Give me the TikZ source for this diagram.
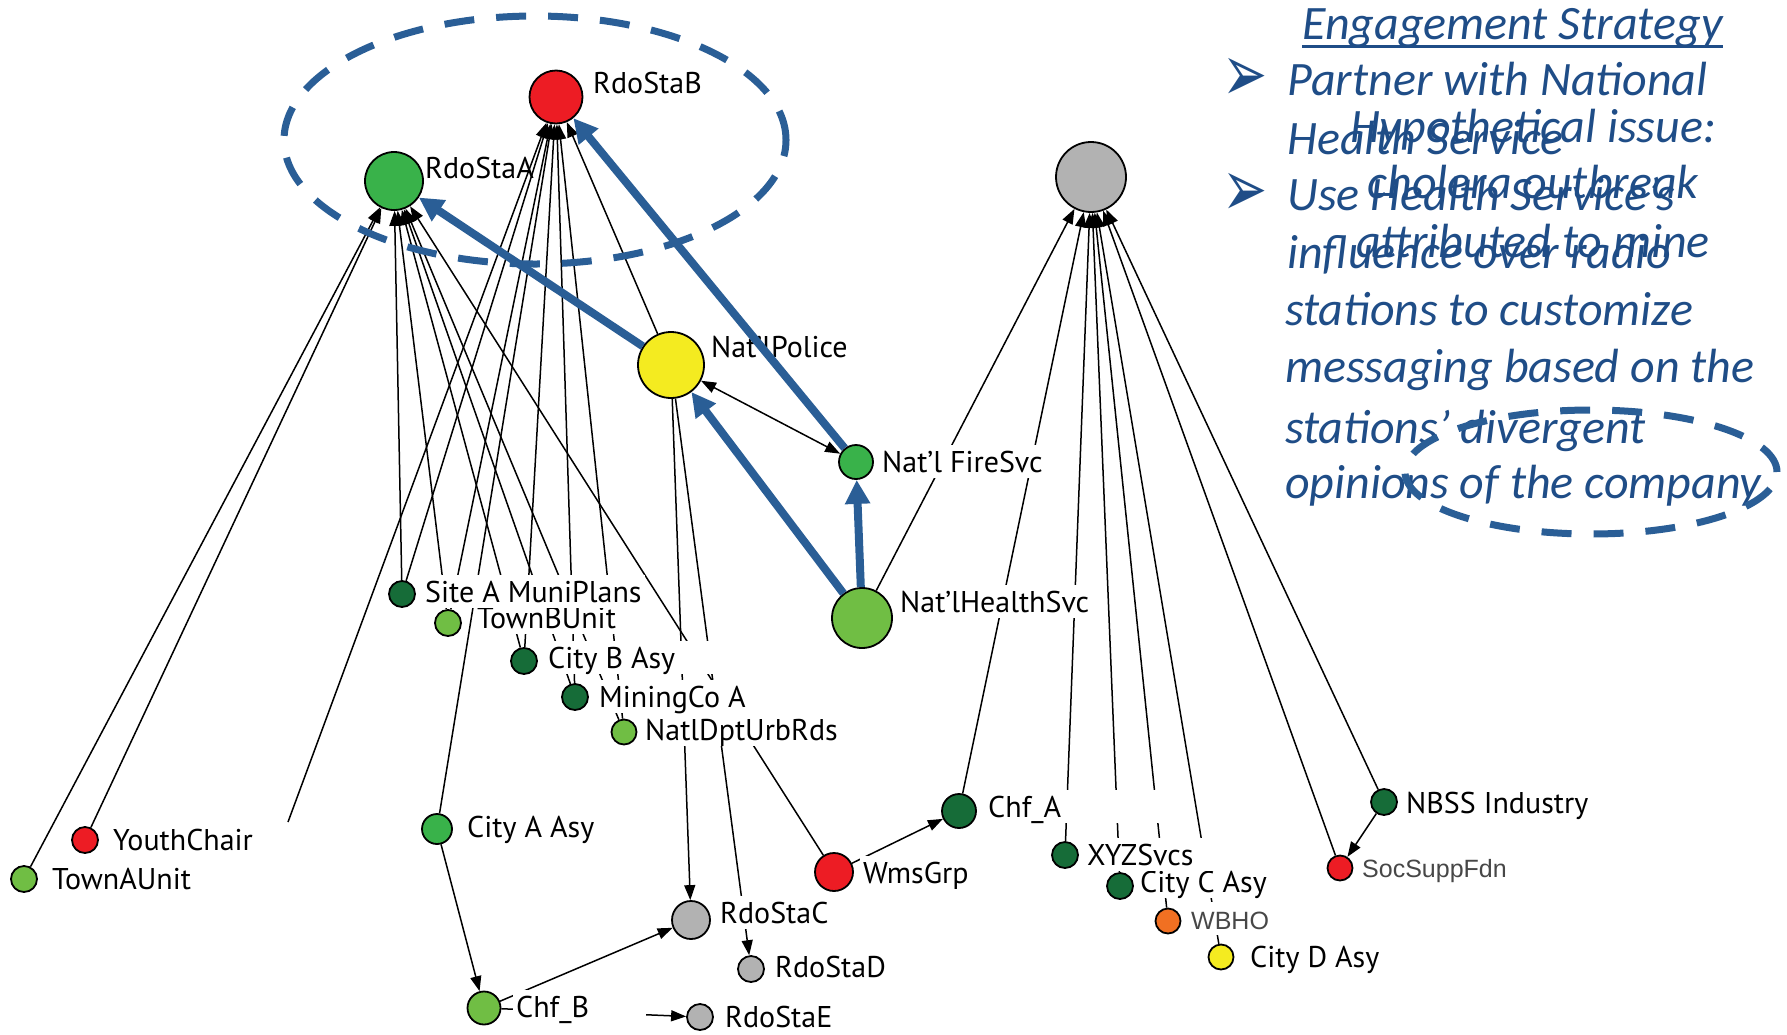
\documentclass[tikz,border=0pt]{standalone}
\usepackage{fontspec}
\setmainfont{PT Sans}
\newfontfamily\calibrifont{Carlito}
\newfontfamily\helvfont{Liberation Sans}
\newfontfamily\dingfont{DejaVu Sans}
\usetikzlibrary{arrows.meta}

\definecolor{netred}{RGB}{237,28,36}
\definecolor{netgreen}{RGB}{57,178,74}
\definecolor{netlime}{RGB}{112,190,68}
\definecolor{netdark}{RGB}{22,108,56}
\definecolor{netyellow}{RGB}{244,235,32}
\definecolor{netgray}{RGB}{178,178,178}
\definecolor{netorange}{RGB}{241,112,34}
\definecolor{markblue}{RGB}{42,94,150}
\definecolor{noteblue}{RGB}{31,77,135}

\pgfdeclarelayer{wires}
\pgfdeclarelayer{tags}
\pgfsetlayers{wires,tags,main}

% label text padded to a fixed width (white label boxes wider than the text)
\newcommand{\padto}[2]{\makebox[#1pt][l]{#2}}

\begin{document}
\begin{tikzpicture}[x=1pt,y=-1pt,
  vtx/.style 2 args={circle, draw=black, line width=1.8pt, fill=#1,
    minimum size=#2, inner sep=0pt},
  ln/.style={line width=1.5pt, -{Triangle[length=15pt,width=11pt]}},
  lntwo/.style={line width=1.5pt,
    {Triangle[length=15pt,width=11pt]}-{Triangle[length=15pt,width=11pt]}},
  barr/.style={draw=markblue, line width=8pt,
    -{Triangle[length=24pt,width=24pt]}},
  lab/.style={font=\fontsize{30}{35}\selectfont, anchor=base west,
    inner xsep=3pt, inner ysep=1pt, text height=26pt, text depth=5pt,
    fill=white},
  glab/.style={lab, font=\helvfont\fontsize{25}{30}\selectfont, text=black!72},
  ring/.style={draw=markblue, line width=7pt, dash pattern=on 30pt off 22pt},
  note/.style={font=\calibrifont\itshape\fontsize{48}{57}\selectfont,
    text=noteblue, inner sep=0pt, anchor=base west},
  hyp/.style={note, anchor=base},
  bul/.style={font=\dingfont\fontsize{54}{54}\selectfont, text=noteblue,
    inner sep=0pt}
]
\useasboundingbox (0,0) rectangle (1787,1034);

% ---------- vertices ----------
\node[vtx={netred}{53pt}]    (rb)  at (556,97)   {};
\node[vtx={netgreen}{58pt}]  (ra)  at (394,181)  {};
\node[vtx={netgray}{70pt}]   (gr)  at (1091,177) {};
\node[vtx={netyellow}{66pt}] (np)  at (671,365)  {};
\node[vtx={netgreen}{34pt}]  (fs)  at (856,462)  {};
\node[vtx={netlime}{60pt}]   (hs)  at (862,618)  {};
\node[vtx={netdark}{26pt}]   (sa)  at (402,594)  {};
\node[vtx={netlime}{26pt}]   (tb)  at (448,623)  {};
\node[vtx={netdark}{26pt}]   (cb)  at (524,661)  {};
\node[vtx={netdark}{26pt}]   (mc)  at (575,697)  {};
\node[vtx={netlime}{25pt}]   (nd)  at (624,732)  {};
\node[vtx={netgreen}{30pt}]  (ca)  at (437,829)  {};
\node[vtx={netlime}{33pt}]   (cfb) at (484,1008) {};
\node[vtx={netgray}{38pt}]   (rc)  at (691,920)  {};
\node[vtx={netgray}{26pt}]   (rd)  at (751,969)  {};
\node[vtx={netgray}{26pt}]   (re)  at (700,1017) {};
\node[vtx={netred}{38pt}]    (wg)  at (834,872)  {};
\node[vtx={netred}{26pt}]    (yc)  at (85,840)   {};
\node[vtx={netlime}{26pt}]   (ta)  at (24,879)   {};
\node[vtx={netdark}{34pt}]   (cfa) at (959,811)  {};
\node[vtx={netdark}{26pt}]   (xyz) at (1065,855) {};
\node[vtx={netdark}{26pt}]   (cc)  at (1120,886) {};
\node[vtx={netorange}{25pt}] (wb)  at (1168,921) {};
\node[vtx={netyellow}{25pt}] (cd)  at (1221,957) {};
\node[vtx={netdark}{26pt}]   (nb)  at (1384,802) {};
\node[vtx={netred}{25pt}]    (ss)  at (1340,868) {};
\coordinate (yfree) at (288,822);

% ---------- thin links ----------
\begin{pgfonlayer}{wires}
  \foreach \s in {ta,yc,sa,tb,cb,mc,nd,wg} \draw[ln] (\s) -- (ra);
  \foreach \s in {sa,tb,ca,cb,mc,nd,np,yfree} \draw[ln] (\s) -- (rb);
  \foreach \s in {hs,cfa,xyz,cc,wb,cd,ss,nb} \draw[ln] (\s) -- (gr);
  \draw[ln] (ca) -- (cfb);
  \draw[ln] (cfb) -- (rc);
  \draw[ln] (cfb) -- (re);
  \draw[ln] (np) -- (rc);
  \draw[ln] (np) -- (rd);
  \draw[ln] (wg) -- (cfa);
  \draw[ln] (nb) -- (ss);
  \draw[lntwo] (np) -- (fs);
\end{pgfonlayer}

% ---------- vertex labels (lowest first, so higher boxes sit on top) ----------
\begin{pgfonlayer}{tags}
  \node[lab]            (lre)  at (722,1027) {RdoStaE};
  \node[lab]            (lcfb) at (513,1017) {\padto{127}{Chf\_B}};
  \node[lab]            (lrd)  at (772,977)  {RdoStaD};
  \node[lab]            (lcd)  at (1247,967) {City D Asy};
  \node[glab]           (lwb)  at (1188,929) {WBHO};
  \node[lab]            (lrc)  at (717,923)  {RdoStaC};
  \node[lab]            (lcc)  at (1137,892) {City C Asy};
  \node[lab]            (lta)  at (49,889)   {TownAUnit};
  \node[lab]            (lwg)  at (860,883)  {WmsGrp};
  \node[glab]           (lss)  at (1359,877) {SocSuppFdn};
  \node[lab]            (lxyz) at (1084,865) {\padto{125}{XYZSvcs}};
  \node[lab]            (lyc)  at (110,850)  {\padto{257}{YouthChair}};
  \node[lab]            (lca)  at (464,837)  {City A Asy};
  \node[lab]            (lcfa) at (985,817)  {\padto{181}{Chf\_A}};
  \node[lab]            (lnb)  at (1403,813) {NBSS Industry};
  \node[lab]            (lnd)  at (642,740)  {NatlDptUrbRds};
  \node[lab]            (lmc)  at (596,707)  {MiningCo A};
  \node[lab]            (lcb)  at (545,668)  {\padto{167}{City B Asy}};
  \node[lab]            (ltb)  at (474,628)  {\padto{148}{TownBUnit}};
  \node[lab]            (lhs)  at (897,612)  {Nat’lHealthSvc};
  \node[lab]            (lsa)  at (422,602)  {Site A MuniPlans};
  \node[lab]            (lfs)  at (879,472)  {\padto{172}{Nat’l FireSvc}};
  \node[lab]            (lnp)  at (708,357)  {Nat’lPolice};
  \node[lab, fill=none] (lra)  at (422,178)  {RdoStaA};
  \node[lab]            (lrb)  at (590,93)   {RdoStaB};
\end{pgfonlayer}

% ---------- highlighted influence path ----------
\draw[barr] (np) -- (ra);
\draw[barr] (fs) -- (rb);
\draw[barr] (hs) -- (np);
\draw[barr] (hs) -- (fs);

% ---------- engagement strategy notes ----------
\node[note] (eng) at (1302,39) {Engagement Strategy};
\draw[noteblue, line width=3pt] ([yshift=-7pt]eng.base west) -- ([yshift=-7pt]eng.base east);

\node[bul] (b1) at (1245,80)  {\scalebox{1}[1.5]{➢}};
\node[bul] (b2) at (1245,195) {\scalebox{1}[1.5]{➢}};

\node[note] (n1) at (1287,95)  {Partner with National};
\node[note] (n2) at (1287,154) {Health Service};
\node[note] (n3) at (1287,210) {Use Health Service’s};
\node[note] (n4) at (1287,268) {influence over radio};
\node[note] (n5) at (1285,325) {stations to customize};
\node[note] (n6) at (1285,382) {messaging based on the};
\node[note] (n7) at (1285,443) {stations’ divergent};
\node[note] (n8) at (1285,498) {opinions of the company};

\node[hyp] (h1) at (1533,142) {Hypothetical issue:};
\node[hyp] (h2) at (1533,198) {cholera outbreak};
\node[hyp] (h3) at (1533,257) {attributed to mine};

% ---------- dashed highlight rings ----------
\draw[ring] (535,140) ellipse [x radius=251pt, y radius=124pt];
\draw[ring] (1591,472) ellipse [x radius=186pt, y radius=62pt];
\end{tikzpicture}
\end{document}
